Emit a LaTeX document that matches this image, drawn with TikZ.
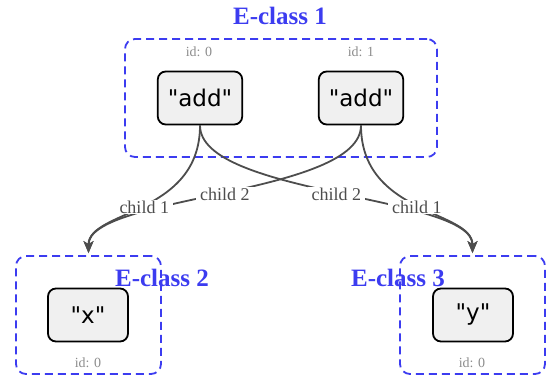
\documentclass[tikz,border=0pt]{standalone}
\usepackage{fontspec}
\setmainfont{Liberation Serif}
\newfontfamily\termfont{DejaVu Sans}
\usetikzlibrary{arrows.meta}
\definecolor{eblue}{RGB}{60,60,240}
\definecolor{egray}{RGB}{77,77,77}
\definecolor{idgray}{RGB}{140,140,140}
\definecolor{termfill}{RGB}{240,240,240}

\begin{document}
\begin{tikzpicture}[x=1pt,y=-1pt,
  eclass/.style={draw=eblue, line width=1.8pt, dash pattern=on 8pt off 5pt, rounded corners=10pt},
  etitle/.style={text=eblue, font=\fontsize{25}{29}\selectfont\bfseries},
  idlbl/.style={text=idgray, font=\fontsize{14}{16}\selectfont},
  term/.style={draw, line width=1.8pt, fill=termfill, rounded corners=8pt, minimum width=80pt, minimum height=53pt, inner sep=10pt, font=\fontsize{23}{27}\selectfont\termfont},
  edge/.style={egray, line width=1.8pt, -{Stealth[length=12pt,width=10pt,inset=3pt]}, shorten >=2pt},
  lbl/.style={fill=white, text=egray, inner xsep=4pt, inner ysep=1pt, font=\fontsize{18}{21}\selectfont}]
\useasboundingbox (0,0) rectangle (548,379);

\node[eclass, minimum width=312pt, minimum height=118pt] (c1) at (281,98) {};
\node[eclass, minimum width=145pt, minimum height=118pt] (c2) at (88.5,315) {};
\node[eclass, minimum width=145pt, minimum height=118pt] (c3) at (472.5,315) {};
\node[etitle] (t1) at (280,16) {E-class 1};
\node[etitle] (t2) at (162,278) {E-class 2};
\node[etitle] (t3) at (398,278) {E-class 3};
\node[idlbl] (i10) at (199,52) {id: 0};
\node[idlbl] (i11) at (361,52) {id: 1};
\node[idlbl] (i20) at (88,363) {id: 0};
\node[idlbl] (i30) at (472,363) {id: 0};

\node[term] (add1) at (200,98) {"add"};
\node[term] (add2) at (361,98) {"add"};
\node[term] (x) at (88,315) {"x"};
\node[term] (y) at (473,315) {"y"};

\draw[edge] (add1.south) .. controls +(0,90) and +(0,-45) .. (c2.north) coordinate[pos=.5] (m11);
\draw[edge] (add2.south) .. controls +(0,70) and +(0,-60) .. (c2.north) coordinate[pos=.5] (m22);
\draw[edge] (add1.south) .. controls +(0,70) and +(0,-60) .. (c3.north) coordinate[pos=.5] (m12);
\draw[edge] (add2.south) .. controls +(0,90) and +(0,-45) .. (c3.north) coordinate[pos=.5] (m21);
\node[lbl] at (m11) {child 1};
\node[lbl] at (m22) {child 2};
\node[lbl] at (m12) {child 2};
\node[lbl] at (m21) {child 1};
\end{tikzpicture}
\end{document}
